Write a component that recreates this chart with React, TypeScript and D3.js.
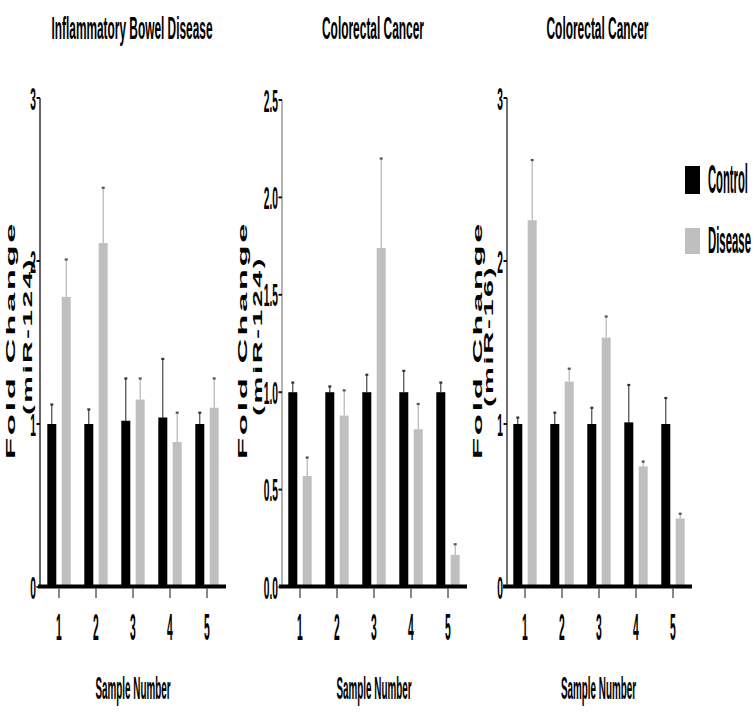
import React, { useLayoutEffect, useRef, useState } from "react";
import * as d3 from "d3";

const samples = ["1", "2", "3", "4", "5"];

const ibdControl = [1.0, 1.0, 1.02, 1.04, 1.0];
const ibdControlErr = [0.12, 0.09, 0.26, 0.36, 0.07];
const ibdDisease = [1.78, 2.11, 1.15, 0.89, 1.1];
const ibdDiseaseErr = [0.23, 0.34, 0.13, 0.18, 0.18];

const crc124Control = [1.0, 1.0, 1.0, 1.0, 1.0];
const crc124ControlErr = [0.05, 0.03, 0.09, 0.11, 0.05];
const crc124Disease = [0.57, 0.88, 1.74, 0.81, 0.165];
const crc124DiseaseErr = [0.095, 0.13, 0.46, 0.13, 0.055];

const crc16Control = [1.0, 1.0, 1.0, 1.01, 1.0];
const crc16ControlErr = [0.04, 0.07, 0.1, 0.23, 0.16];
const crc16Disease = [2.25, 1.26, 1.53, 0.74, 0.42];
const crc16DiseaseErr = [0.37, 0.08, 0.13, 0.03, 0.03];

const titles = ["Inflammatory Bowel Disease", "Colorectal Cancer", "Colorectal Cancer"];
const yLabels = ["(miR-124)", "(miR-124)", "(miR-16)"];
const yTicks1 = [0, 1, 2, 3];
const yTicks2 = [0, 0.5, 1.0, 1.5, 2.0, 2.5];
const yTicks3 = [0, 1, 2, 3];
const legendLabels = ["Control", "Disease"];

const FONT = "'Liberation Sans', Arial, sans-serif";
const CONTROL = "#000000";
const DISEASE = "#bfbfbf";

type FitProps = {
  x: number;
  y: number;
  width: number;
  anchor?: "start" | "middle" | "end";
  rotate?: number;
  fontSize: number;
  fontWeight?: string;
  letterSpacing?: number;
  children: string;
};

function FitText({ x, y, width, anchor = "start", rotate = 0, fontSize, fontWeight = "normal", letterSpacing = 0, children }: FitProps) {
  const ref = useRef<SVGTextElement>(null);
  const [s, setS] = useState(width / (children.length * fontSize * 0.55));
  useLayoutEffect(() => {
    if (ref.current) {
      const w = ref.current.getComputedTextLength();
      if (w > 0) setS(width / w);
    }
  }, [width, children, fontSize, letterSpacing]);
  return (
    <text
      ref={ref}
      transform={`translate(${x},${y}) rotate(${rotate}) scale(${s},1)`}
      textAnchor={anchor}
      fontFamily={FONT}
      fontSize={fontSize}
      fontWeight={fontWeight}
      letterSpacing={letterSpacing}
      fill="#000"
    >
      {children}
    </text>
  );
}

type PanelCfg = {
  title: string;
  titleW: number;
  yLabel: string;
  yLabelLen: number;
  foldX: number;
  mirX: number;
  axisX: number;
  firstTick: number;
  lineX0: number;
  lineX1: number;
  yMax: number;
  yTop: number;
  ticks: number[];
  fmt: (v: number) => string;
  axisColor: string;
  control: number[];
  controlErr: number[];
  disease: number[];
  diseaseErr: number[];
};

const BASE = 587;

const panels: PanelCfg[] = [
  {
    title: titles[0], titleW: 161, yLabel: yLabels[0], yLabelLen: 158, foldX: 15, mirX: 31.5,
    axisX: 40, firstTick: 59, lineX0: 38, lineX1: 226, yMax: 3, yTop: 98,
    ticks: yTicks1, fmt: d3.format("d"), axisColor: "#111",
    control: ibdControl, controlErr: ibdControlErr, disease: ibdDisease, diseaseErr: ibdDiseaseErr,
  },
  {
    title: titles[1], titleW: 102, yLabel: yLabels[1], yLabelLen: 160, foldX: 247, mirX: 261.5,
    axisX: 282, firstTick: 300, lineX0: 279, lineX1: 467, yMax: 2.5, yTop: 100,
    ticks: yTicks2, fmt: d3.format(".1f"), axisColor: "#8a8a8a",
    control: crc124Control, controlErr: crc124ControlErr, disease: crc124Disease, diseaseErr: crc124DiseaseErr,
  },
  {
    title: titles[2], titleW: 102, yLabel: yLabels[2], yLabelLen: 142, foldX: 482, mirX: 493,
    axisX: 507, firstTick: 525, lineX0: 503, lineX1: 692, yMax: 3, yTop: 98,
    ticks: yTicks3, fmt: d3.format("d"), axisColor: "#222",
    control: crc16Control, controlErr: crc16ControlErr, disease: crc16Disease, diseaseErr: crc16DiseaseErr,
  },
];

const BAR_W = 9;
const OFF = 7.2;

function Panel({ p }: { p: PanelCfg }) {
  const x = d3.scalePoint<string>().domain(samples).range([p.firstTick, p.firstTick + 37 * 4]);
  const y = d3.scaleLinear().domain([0, p.yMax]).range([BASE, p.yTop]);
  const cx = (p.lineX0 + p.lineX1) / 2;

  const bar = (v: number, e: number, center: number, fill: string, errColor: string, capColor: string, key: string) => (
    <g key={key}>
      <line x1={center} x2={center} y1={y(v)} y2={y(v + e)} stroke={errColor} strokeWidth={1} />
      <rect x={center - 1.5} y={y(v + e) - 1} width={3} height={2.2} fill={capColor} />
      <rect x={center - BAR_W / 2} y={y(v)} width={BAR_W} height={BASE - y(v)} fill={fill} />
    </g>
  );

  return (
    <g>
      <FitText x={cx} y={39} width={p.titleW} anchor="middle" fontSize={32} fontWeight="bold">{p.title}</FitText>

      <FitText x={p.foldX} y={340} width={238} anchor="middle" rotate={-90} fontSize={13.5} fontWeight="bold" letterSpacing={1}>
        Fold Change
      </FitText>
      <FitText x={p.mirX} y={336} width={p.yLabelLen} anchor="middle" rotate={-90} fontSize={12.5} fontWeight="bold" letterSpacing={1}>
        {p.yLabel}
      </FitText>

      {samples.map((s, i) => (
        <g key={s}>
          {bar(p.control[i], p.controlErr[i], (x(s) as number) - OFF, CONTROL, "#222", "#333", "c" + s)}
          {bar(p.disease[i], p.diseaseErr[i], (x(s) as number) + OFF, DISEASE, "#a6a6a6", "#555", "d" + s)}
        </g>
      ))}

      <line x1={p.axisX} x2={p.axisX} y1={p.yTop} y2={BASE} stroke={p.axisColor} strokeWidth={1.3} />
      {p.ticks.map((t) => (
        <g key={t}>
          <rect x={p.axisX - 3.5} y={y(t) - 1} width={3.5} height={2} fill="#111" />
          <text transform={`translate(${p.axisX - 4},${y(t) + 11.5}) scale(0.32,1)`} textAnchor="end"
            fontFamily={FONT} fontSize={32} fontWeight="bold" fill="#000">{p.fmt(t)}</text>
        </g>
      ))}

      <line x1={p.lineX0} x2={p.lineX1} y1={BASE - 0.5} y2={BASE - 0.5} stroke="#000" strokeWidth={4} />
      {samples.map((s) => (
        <g key={s}>
          <line x1={x(s)} x2={x(s)} y1={BASE + 1.5} y2={BASE + 11} stroke="#111" strokeWidth={1} />
          <text transform={`translate(${x(s)},640) scale(0.28,1)`} textAnchor="middle"
            fontFamily={FONT} fontSize={37} fontWeight="bold" fill="#000">{s}</text>
        </g>
      ))}
      <FitText x={cx + 1} y={699} width={75} anchor="middle" fontSize={31} fontWeight="bold">Sample Number</FitText>
    </g>
  );
}

export default function App() {
  return (
    <svg width={755} height={719} style={{ position: "absolute", left: 0, top: 0, background: "#fff" }}>
      <rect width={755} height={719} fill="#fff" />
      {panels.map((p, i) => <Panel key={i} p={p} />)}
      <rect x={685} y={166} width={15} height={28} fill={CONTROL} />
      <rect x={685} y={228} width={15} height={26} fill={DISEASE} />
      <FitText x={708} y={193} width={40} fontSize={40} fontWeight="bold">{legendLabels[0]}</FitText>
      <FitText x={708} y={253} width={43} fontSize={37} fontWeight="bold">{legendLabels[1]}</FitText>
    </svg>
  );
}
